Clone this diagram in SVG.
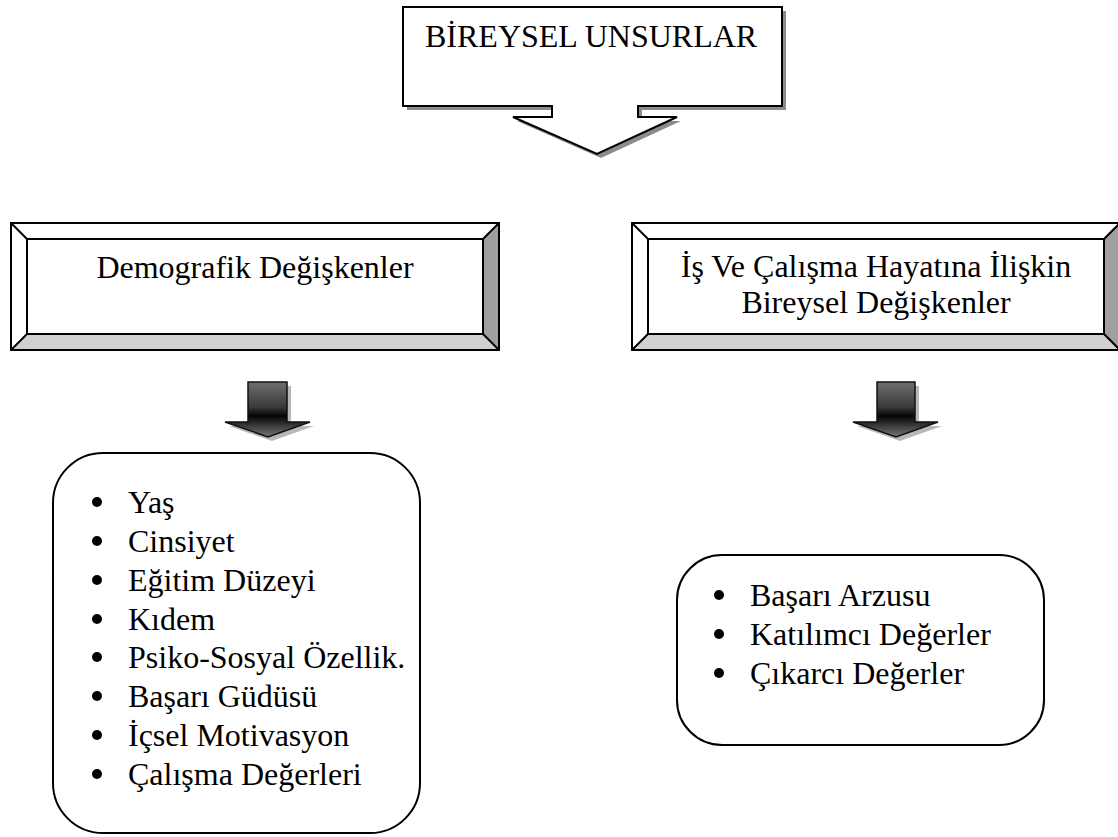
<svg xmlns="http://www.w3.org/2000/svg" width="1118" height="837" viewBox="0 0 1118 837">
  <defs>
    <style>
      .t { font-family: "Liberation Serif", "Times New Roman", serif; font-size: 32px; fill: #000; }
      .ln { fill: none; stroke: #000; stroke-width: 2; }
      .box { fill: #fff; stroke: #000; stroke-width: 2; }
      .bul { fill: #000; }
    </style>
    <linearGradient id="arrowFill" x1="0" y1="0" x2="0" y2="1">
      <stop offset="0" stop-color="#6e6e6e"/>
      <stop offset="0.45" stop-color="#3a3a3a"/>
      <stop offset="0.62" stop-color="#050505"/>
      <stop offset="0.8" stop-color="#3c3c3c"/>
      <stop offset="1" stop-color="#777"/>
    </linearGradient>
  </defs>

  <!-- top callout with down arrow -->
  <g id="bireysel-unsurlar">
    <path d="M407,11 H786 V110 H642 V121 H681 L601,158 L517,121 H556 V110 H407 Z" fill="#8c8c8c"/>
    <path class="box" d="M403,7 H782 V106 H638 V117 H677 L597,154 L513,117 H552 V106 H403 Z"/>
    <text class="t" x="425" y="47">BİREYSEL UNSURLAR</text>
  </g>

  <!-- bevelled header boxes -->
  <g id="demografik">
    <rect x="11" y="223" width="488" height="127" fill="#fff"/>
    <path d="M483,239 L499,223 V350 L483,334 Z" fill="#a0a0a0"/>
    <path d="M27,334 H483 L499,350 H11 Z" fill="#d0d0d0"/>
    <rect class="ln" x="11" y="223" width="488" height="127"/>
    <rect class="ln" x="27" y="239" width="456" height="95"/>
    <path class="ln" d="M11,223 L27,239 M499,223 L483,239 M11,350 L27,334 M499,350 L483,334"/>
    <text class="t" x="255" y="278" text-anchor="middle">Demografik Değişkenler</text>
  </g>

  <g id="is-calisma">
    <rect x="632" y="223" width="488" height="127" fill="#fff"/>
    <path d="M1104,239 L1120,223 V350 L1104,334 Z" fill="#a0a0a0"/>
    <path d="M648,334 H1104 L1120,350 H632 Z" fill="#d0d0d0"/>
    <rect class="ln" x="632" y="223" width="488" height="127"/>
    <rect class="ln" x="648" y="239" width="456" height="95"/>
    <path class="ln" d="M632,223 L648,239 M1120,223 L1104,239 M632,350 L648,334 M1120,350 L1104,334"/>
    <text class="t" x="876" y="277" text-anchor="middle">İş Ve Çalışma Hayatına İlişkin</text>
    <text class="t" x="876" y="313" text-anchor="middle">Bireysel Değişkenler</text>
  </g>

  <!-- block arrows between headers and lists -->
  <g id="connectors">
    <path d="M252,386 H291 V426 H314 L272,441 L229,426 H252 Z" fill="#b8b8b8"/>
    <path d="M248,382 H287 V422 H310 L268,437 L225,422 H248 Z" fill="url(#arrowFill)" stroke="#111" stroke-width="1.5"/>
    <path d="M881,386 H919 V426 H942 L900,441 L857,426 H881 Z" fill="#b8b8b8"/>
    <path d="M877,382 H915 V422 H938 L896,437 L853,422 H877 Z" fill="url(#arrowFill)" stroke="#111" stroke-width="1.5"/>
  </g>

  <!-- lists -->
  <g id="demografik-liste">
    <rect class="box" x="53" y="453" width="367" height="380" rx="50" ry="50"/>
    <circle class="bul" cx="97" cy="502" r="5"/>
    <text class="t" x="128" y="513">Yaş</text>
    <circle class="bul" cx="97" cy="541" r="5"/>
    <text class="t" x="128" y="552">Cinsiyet</text>
    <circle class="bul" cx="97" cy="580" r="5"/>
    <text class="t" x="128" y="591">Eğitim Düzeyi</text>
    <circle class="bul" cx="97" cy="619" r="5"/>
    <text class="t" x="128" y="630">Kıdem</text>
    <circle class="bul" cx="97" cy="657" r="5"/>
    <text class="t" x="128" y="668">Psiko-Sosyal Özellik.</text>
    <circle class="bul" cx="97" cy="696" r="5"/>
    <text class="t" x="128" y="707">Başarı Güdüsü</text>
    <circle class="bul" cx="97" cy="735" r="5"/>
    <text class="t" x="128" y="746">İçsel Motivasyon</text>
    <circle class="bul" cx="97" cy="774" r="5"/>
    <text class="t" x="128" y="785">Çalışma Değerleri</text>
  </g>

  <g id="is-liste">
    <rect class="box" x="677" y="555" width="367" height="190" rx="45" ry="45"/>
    <circle class="bul" cx="719" cy="595" r="5"/>
    <text class="t" x="750" y="606">Başarı Arzusu</text>
    <circle class="bul" cx="719" cy="634" r="5"/>
    <text class="t" x="750" y="645">Katılımcı Değerler</text>
    <circle class="bul" cx="719" cy="673" r="5"/>
    <text class="t" x="750" y="684">Çıkarcı Değerler</text>
  </g>
</svg>
